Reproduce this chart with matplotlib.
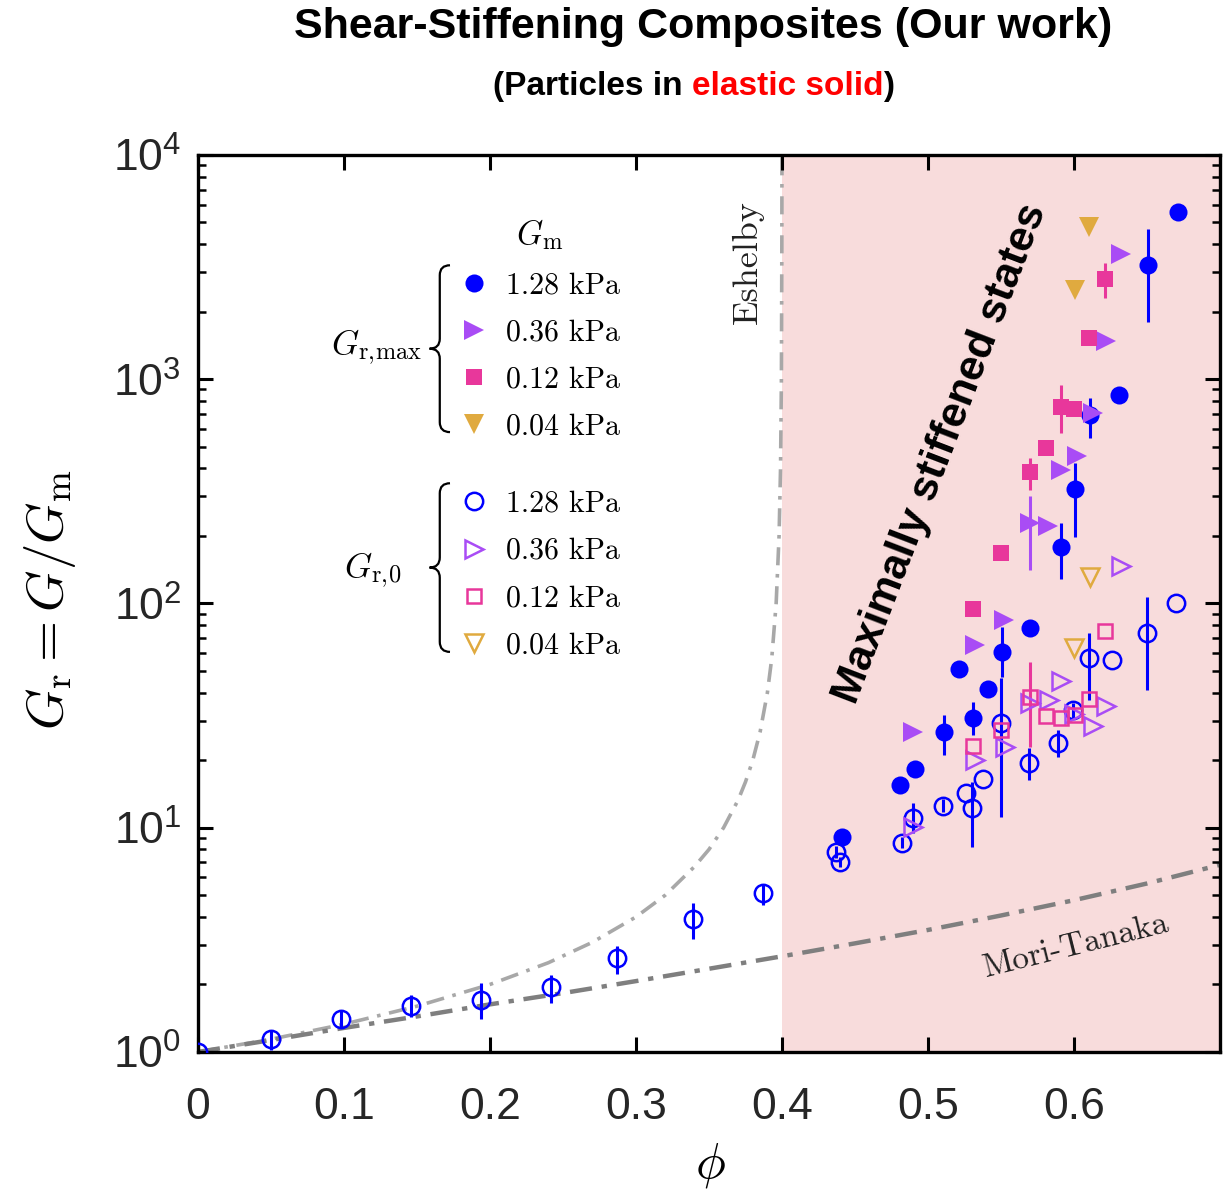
import numpy as np
import matplotlib
matplotlib.use("Agg")
import matplotlib.pyplot as plt
from matplotlib.path import Path
from matplotlib.patches import PathPatch

plt.rcParams['font.family'] = 'Liberation Sans'
plt.rcParams['mathtext.fontset'] = 'cm'

# ---- data ----
# model curves
esh_phi = [0, 0.05, 0.10, 0.15, 0.20, 0.24, 0.27, 0.30, 0.32, 0.34, 0.35, 0.36, 0.37,
           0.375, 0.38, 0.385, 0.39, 0.393, 0.396, 0.398, 0.399, 0.3996, 0.3999, 0.39999]
esh_G = [1.0, 1.14, 1.33, 1.6, 2.0, 2.5, 3.08, 4.0, 5.0, 6.7, 8.0, 10.0, 13.3,
         16.0, 20.0, 26.7, 40.0, 57.0, 100.0, 200.0, 400.0, 1000.0, 4000.0, 12000.0]
mt_phi = [0, 0.05, 0.10, 0.15, 0.20, 0.25, 0.30, 0.35, 0.40, 0.45, 0.50, 0.55, 0.60, 0.65, 0.70]
mt_G = [1.0, 1.13, 1.28, 1.44, 1.63, 1.83, 2.07, 2.35, 2.67, 3.05, 3.5, 4.06, 4.75, 5.64, 6.83]

# G_r,max (filled)
b_max_phi = [0.441, 0.481, 0.491, 0.511, 0.521, 0.531, 0.541, 0.551, 0.570, 0.591, 0.601, 0.611, 0.631, 0.651, 0.671]
b_max_G = [9.1, 15.5, 18.3, 26.7, 51, 30.9, 41.6, 60.8, 78, 179, 325, 690, 850, 3235, 5570]
b_max_lo = [9.1, 15.5, 18.3, 21.1, 51, 25.9, 41.6, 47, 78, 128.6, 198, 547, 850, 1800, 5570]
b_max_hi = [9.1, 15.5, 18.3, 31.8, 51, 36.4, 41.6, 78.6, 78, 228, 423, 825, 850, 4680, 5570]

p_max_phi = [0.490, 0.532, 0.552, 0.570, 0.582, 0.591, 0.602, 0.613, 0.622, 0.632]
p_max_G = [26.7, 65.3, 84.4, 228, 222, 394, 455, 707, 1482, 3620]
p_max_lo = [26.7, 65.3, 84.4, 141, 222, 394, 455, 707, 1482, 3620]
p_max_hi = [26.7, 65.3, 84.4, 300, 222, 394, 455, 707, 1482, 3620]

k_max_phi = [0.531, 0.550, 0.570, 0.581, 0.591, 0.600, 0.610, 0.621]
k_max_G = [94.5, 168, 386, 494, 752, 736, 1528, 2800]
k_max_lo = [94.5, 168, 321, 494, 576, 736, 1450, 2303]
k_max_hi = [94.5, 168, 445, 494, 943, 736, 1620, 3300]

g_max_phi = [0.601, 0.610]
g_max_G = [2500, 4775]

# G_r,0 (hollow)
b_0_phi = [0.0, 0.0499, 0.0977, 0.146, 0.194, 0.242, 0.287, 0.339, 0.387, 0.437, 0.440, 0.482,
           0.490, 0.510, 0.526, 0.530, 0.538, 0.550, 0.569, 0.589, 0.599, 0.610, 0.626, 0.650, 0.670]
b_0_G = [1.0, 1.14, 1.40, 1.60, 1.71, 1.95, 2.63, 3.92, 5.12, 7.8, 7.03, 8.55,
         11.0, 12.5, 14.3, 12.2, 16.5, 29.3, 19.4, 23.9, 33.5, 57.2, 56, 73.9, 100.5]
b_0_lo = [1.0, 1.02, 1.28, 1.43, 1.40, 1.65, 2.23, 3.19, 4.52, 7.3, 6.7, 8.1,
          9.48, 11.7, 14.3, 8.2, 16.5, 11.2, 16.3, 20.6, 31, 37.1, 56, 41.1, 100.5]
b_0_hi = [1.0, 1.25, 1.54, 1.80, 2.03, 2.21, 2.97, 4.62, 5.62, 8.3, 7.4, 9.1,
          12.9, 13.4, 14.3, 16.0, 16.5, 46.5, 22.6, 27.3, 36, 73.7, 56, 107, 100.5]

p_0_phi = [0.490, 0.532, 0.553, 0.570, 0.583, 0.591, 0.600, 0.613, 0.622, 0.632]
p_0_G = [10.1, 20, 22.9, 36, 37.1, 45.1, 32, 28.4, 34.9, 147]

k_0_phi = [0.531, 0.550, 0.570, 0.581, 0.591, 0.601, 0.610, 0.621]
k_0_G = [23.2, 27.3, 38.3, 31.5, 30.9, 31.8, 37.5, 75.4]
k_0_lo = [23.2, 27.3, 22.9, 31.5, 30.9, 31.8, 37.5, 75.4]
k_0_hi = [23.2, 27.3, 54.8, 31.5, 30.9, 31.8, 37.5, 75.4]

g_0_phi = [0.600, 0.611]
g_0_G = [63.2, 131]

labels_kpa = ['1.28 kPa', '0.36 kPa', '0.12 kPa', '0.04 kPa']
xtick_vals = [0, 0.1, 0.2, 0.3, 0.4, 0.5, 0.6]
xtick_labels = ['0', '0.1', '0.2', '0.3', '0.4', '0.5', '0.6']

BLUE = '#0000ff'
PURPLE = '#a94cf5'
PINK = '#e8379b'
GOLD = '#e0aa3f'

fig = plt.figure(figsize=(12.28, 11.90), dpi=100)
ax = fig.add_axes([0.1612, 0.1160, 0.8323, 0.7538])

ax.axvspan(0.4, 0.7, color='#f8dcdc', lw=0, zorder=0)
ax.plot(esh_phi, esh_G, color='#a8a8a8', lw=2.6, ls=(0, (5, 2.4, 1, 2.4)), zorder=1)
ax.plot(mt_phi, mt_G, color='#7f7f7f', lw=3.2, ls=(0, (5, 2.2, 1.2, 2.2)), zorder=1)


def series(phi, G, color, marker, filled, ms, lo=None, hi=None):
    phi = np.asarray(phi)
    G = np.asarray(G)
    if lo is not None:
        yerr = [G - np.asarray(lo), np.asarray(hi) - G]
        ax.errorbar(phi, G, yerr=yerr, fmt='none', ecolor=color, elinewidth=2.2, zorder=3)
    h, = ax.plot(phi, G, ls='none', marker=marker, ms=ms,
                 mfc=color if filled else 'none', mec=color,
                 mew=0 if filled else 1.8, zorder=4 if filled else 3.5)
    return h


h0 = [series(b_0_phi, b_0_G, BLUE, 'o', False, 12.5, b_0_lo, b_0_hi),
      series(p_0_phi, p_0_G, PURPLE, '>', False, 13),
      series(k_0_phi, k_0_G, PINK, 's', False, 10.5, k_0_lo, k_0_hi),
      series(g_0_phi, g_0_G, GOLD, 'v', False, 13)]
hmax = [series(b_max_phi, b_max_G, BLUE, 'o', True, 13, b_max_lo, b_max_hi),
        series(p_max_phi, p_max_G, PURPLE, '>', True, 14.5, p_max_lo, p_max_hi),
        series(k_max_phi, k_max_G, PINK, 's', True, 12, k_max_lo, k_max_hi),
        series(g_max_phi, g_max_G, GOLD, 'v', True, 14.5)]

ax.set_yscale('log')
ax.set_xlim(0, 0.7)
ax.set_ylim(1, 1e4)
ax.set_xticks(xtick_vals)
ax.set_xticklabels(xtick_labels)
ax.tick_params(which='both', direction='in', top=True, right=True, colors='black',
               labelcolor='#262626', labelsize=32)
ax.tick_params(which='major', length=11, width=2.2)
ax.tick_params(which='minor', length=6, width=1.8)
ax.tick_params(axis='x', pad=25)
ax.tick_params(axis='y', pad=12)
for s in ax.spines.values():
    s.set_linewidth(2.4)

fig.text(50 / 1228, 1 - 600 / 1190, r'$G_\mathrm{r} = G/G_\mathrm{m}$', fontsize=38,
         rotation=90, ha='center', va='center')
fig.text(710 / 1228, 1 - 1165 / 1190, r'$\phi$', fontsize=36, ha='center', va='center')

# annotations
ax.text(0.538, 0.881, 'Eshelby', family='cmr10', fontsize=26, rotation=90,
        ha='center', va='center', color='#222222', transform=ax.transAxes)
ax.text(0.859, 0.118, 'Mori-Tanaka', family='cmr10', fontsize=24, rotation=14,
        ha='center', va='center', color='#222222', transform=ax.transAxes)
ax.text(0.727, 0.667, 'Maximally stiffened states', fontsize=31, weight='bold',
        rotation=69, ha='center', va='center', rotation_mode='anchor',
        transform=ax.transAxes)

# legends
leg_kw = dict(loc='upper left', frameon=False, borderpad=0, borderaxespad=0,
              handlelength=1.0, handletextpad=0.6, labelspacing=0.66,
              prop={'family': 'cmr10', 'size': 21.5})
leg1 = ax.legend(handles=hmax, labels=labels_kpa, bbox_to_anchor=(0.255, 0.93),
                 title=r'$G_\mathrm{m}$', title_fontsize=24, **leg_kw)
ax.add_artist(leg1)
leg2 = ax.legend(handles=h0, labels=labels_kpa, bbox_to_anchor=(0.255, 0.626), **leg_kw)


def brace(x, y0, y1, w):
    ym = (y0 + y1) / 2
    d = (y1 - y0) * 0.06
    xm = x - w / 2
    verts = [(x, y0), (xm, y0), (xm, y0 + d), (xm, ym - d), (xm, ym), (x - w, ym),
             (xm, ym), (xm, ym + d), (xm, y1 - d), (xm, y1), (x, y1)]
    codes = [Path.MOVETO, Path.CURVE3, Path.CURVE3, Path.LINETO, Path.CURVE3, Path.CURVE3,
             Path.CURVE3, Path.CURVE3, Path.LINETO, Path.CURVE3, Path.CURVE3]
    ax.add_patch(PathPatch(Path(verts, codes), fc='none', ec='black', lw=1.6,
                           transform=ax.transAxes, clip_on=False))


brace(0.2466, 0.691, 0.877, 0.02)
brace(0.2466, 0.446, 0.634, 0.02)
ax.text(0.219, 0.786, r'$G_{\mathrm{r,\!max}}$', fontsize=25, ha='right', va='center',
        transform=ax.transAxes)
ax.text(0.1996, 0.537, r'$G_{\mathrm{r,\!0}}$', fontsize=25, ha='right', va='center',
        transform=ax.transAxes)

# titles
fig.text(0.5725, 0.977, 'Shear-Stiffening Composites (Our work)', fontsize=31,
         weight='bold', ha='center', va='center')
r = fig.canvas.get_renderer()
sub = [('(Particles in', 'black', True), ('elastic solid', '#ff0000', False), (')', 'black', False)]
sub_y = 0.927
tmp = fig.text(0, 0, '(Particles in elastic solid)', fontsize=24, weight='bold')
W = tmp.get_window_extent(r).width
tmp.remove()
sp = fig.text(0, 0, 'n n', fontsize=24, weight='bold')
sp_w = sp.get_window_extent(r).width
sp.remove()
sp = fig.text(0, 0, 'nn', fontsize=24, weight='bold')
sp_w -= sp.get_window_extent(r).width
sp.remove()
x0 = 0.5647 * fig.bbox.width - W / 2
for txt, col, gap in sub:
    t = fig.text(x0 / fig.bbox.width, sub_y, txt, fontsize=24, weight='bold', color=col,
                 ha='left', va='center')
    x0 += t.get_window_extent(r).width + (sp_w if gap else 0)

fig.savefig('out.png', dpi=100)
